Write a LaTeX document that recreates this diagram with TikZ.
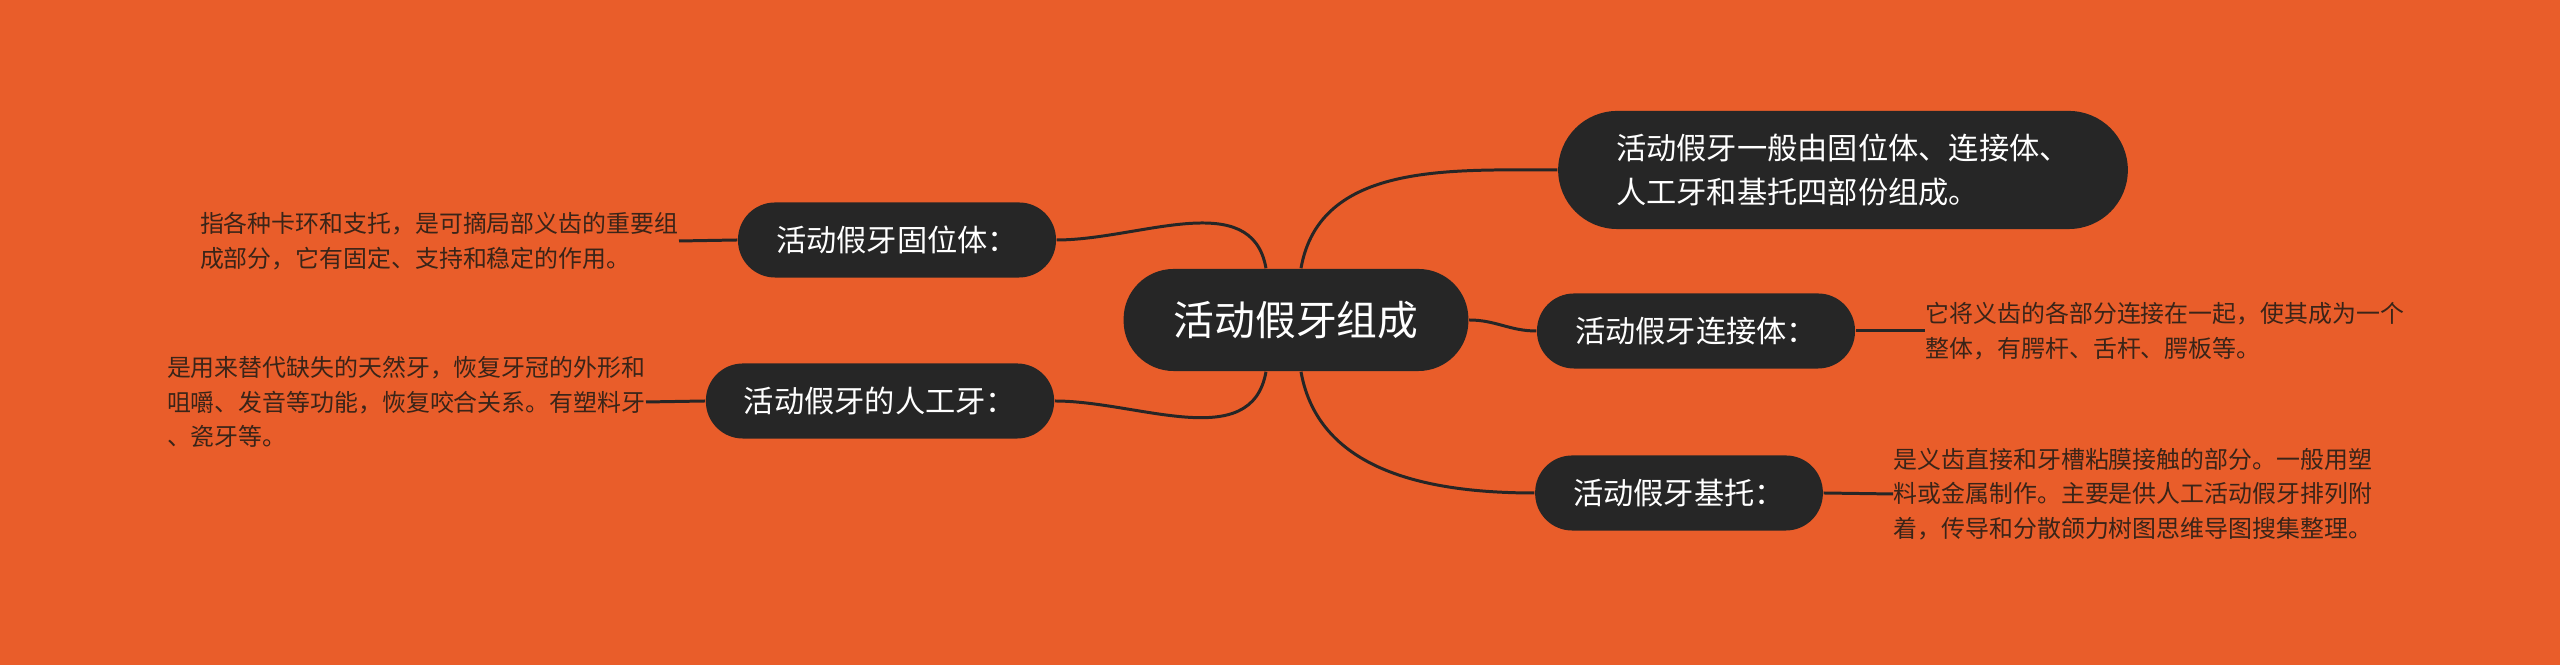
\documentclass[tikz,border=0pt]{standalone}
\usepackage{fontspec}
\setmainfont{Noto Sans CJK SC}
\usetikzlibrary{calc}
\definecolor{bg}{HTML}{E95D2A}
\definecolor{nd}{HTML}{262626}
\definecolor{lf}{HTML}{3A2418}
\begin{document}
\begin{tikzpicture}[x=0.01cm,y=-0.01cm,
  branch/.style={fill=nd,text=white,rounded corners=0.37cm,minimum height=0.75cm,inner xsep=0.38cm,font=\fontsize{8.6pt}{11pt}\selectfont},
  leaf/.style={text=lf,align=left,inner sep=0pt,font=\fontsize{6.8pt}{9.8pt}\selectfont},
  conn/.style={draw=nd,line width=0.85pt}]
\fill[bg] (0,0) rectangle (2560,665);
\useasboundingbox (0,0) rectangle (2560,665);
\node[branch,minimum height=1.02cm,rounded corners=0.5cm,inner xsep=0.5cm,font=\fontsize{11.6pt}{14pt}\selectfont] (c) at (1296,320) {活动假牙组成};
\node[branch,minimum height=1.18cm,rounded corners=0.59cm,inner xsep=0.58cm,align=left,font=\fontsize{8.6pt}{12.4pt}\selectfont] (t) at (1843,170) {活动假牙一般由固位体、连接体、\\人工牙和基托四部份组成。};
\node[branch] (lj) at (1696,331) {活动假牙连接体：};
\node[branch] (jt) at (1679,493) {活动假牙基托：};
\node[branch] (gw) at (897,240) {活动假牙固位体：};
\node[branch] (rg) at (880,401) {活动假牙的人工牙：};
\node[leaf,anchor=west] (ljl) at (1925,331) {它将义齿的各部分连接在一起，使其成为一个\\整体，有腭杆、舌杆、腭板等。};
\node[leaf,anchor=west] (jtl) at (1893,494) {是义齿直接和牙槽粘膜接触的部分。一般用塑\\料或金属制作。主要是供人工活动假牙排列附\\着，传导和分散颌力树图思维导图搜集整理。};
\node[leaf,anchor=east] (gwl) at (679,241) {指各种卡环和支托，是可摘局部义齿的重要组\\成部分，它有固定、支持和稳定的作用。};
\node[leaf,anchor=east] (rgl) at (646,402) {是用来替代缺失的天然牙，恢复牙冠的外形和\\咀嚼、发音等功能，恢复咬合关系。有塑料牙\\、瓷牙等。};
\draw[conn] ([xshift=0.05cm]c.north) to[out=80,in=180] (t.west);
\draw[conn] (c.east) to[out=0,in=180] (lj.west);
\draw[conn] ([xshift=0.05cm]c.south) to[out=-80,in=180] (jt.west);
\draw[conn] ([xshift=-0.3cm]c.north) to[out=100,in=0] (gw.east);
\draw[conn] ([xshift=-0.3cm]c.south) to[out=-100,in=0] (rg.east);
\draw[conn] (lj.east) -- (ljl.west);
\draw[conn] (jt.east) -- (jtl.west);
\draw[conn] (gw.west) -- (gwl.east);
\draw[conn] (rg.west) -- (rgl.east);
\end{tikzpicture}
\end{document}
